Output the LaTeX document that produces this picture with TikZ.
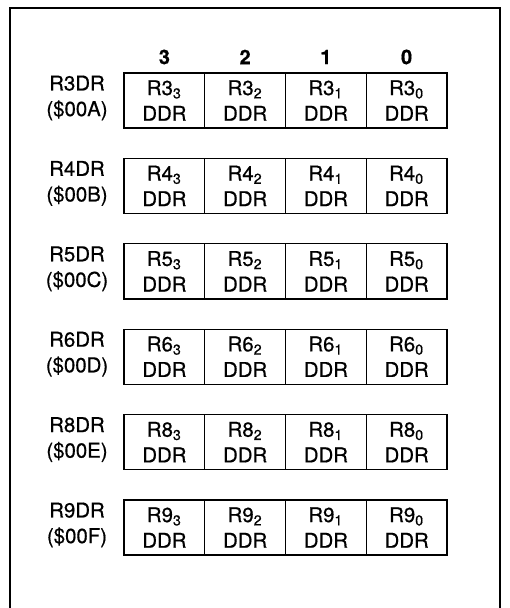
\documentclass[tikz,border=0pt]{standalone}
\usepackage{fontspec}
\setmainfont[FakeBold=0.6]{TeX Gyre Heros}
\usetikzlibrary{positioning}

\begin{document}
\begin{tikzpicture}[x=0.5pt,y=-0.5pt]
	%\draw[help lines] (0,0) grid (509,608);
	\useasboundingbox (0,0) rectangle (509,608);

	\tikzstyle{cell} = [rectangle,draw,line width=0.7pt,inner sep=0pt,minimum width=40.375pt,minimum height=27.5pt,align=center,font=\fontsize{10.2}{12.8}\selectfont]
	\tikzstyle{regname} = [align=center,inner sep=0pt,font=\fontsize{10.2}{12.8}\selectfont]
	\tikzstyle{bitnum} = [inner sep=0pt,font=\fontsize{10}{11}\selectfont\bfseries]

	% outer frame
	\draw[line width=0.9pt] (10,8) rectangle (500,640);

	% bit numbers
	\node[bitnum] (h3) at (164.4,57) {3};
	\node[bitnum] (h2) at (245.1,57) {2};
	\node[bitnum] (h1) at (325.9,57) {1};
	\node[bitnum] (h0) at (406.6,57) {0};

	% registers
	\foreach \r/\a [count=\i from 0] in {3/A,4/B,5/C,6/D,8/E,9/F} {
		\pgfmathsetmacro{\ytop}{73+85.4*\i}
		\node[regname] (lbl\r) at (77,\ytop+25) {R\r DR\\(\$00\a)};
		\foreach \b/\x in {3/0,2/1,1/2,0/3} {
			\node[cell] (r\r b\b) at (164.4+80.75*\x,\ytop+27.5) {R\r\textsubscript{\b}\\DDR};
		}
	}

\end{tikzpicture}
\end{document}
